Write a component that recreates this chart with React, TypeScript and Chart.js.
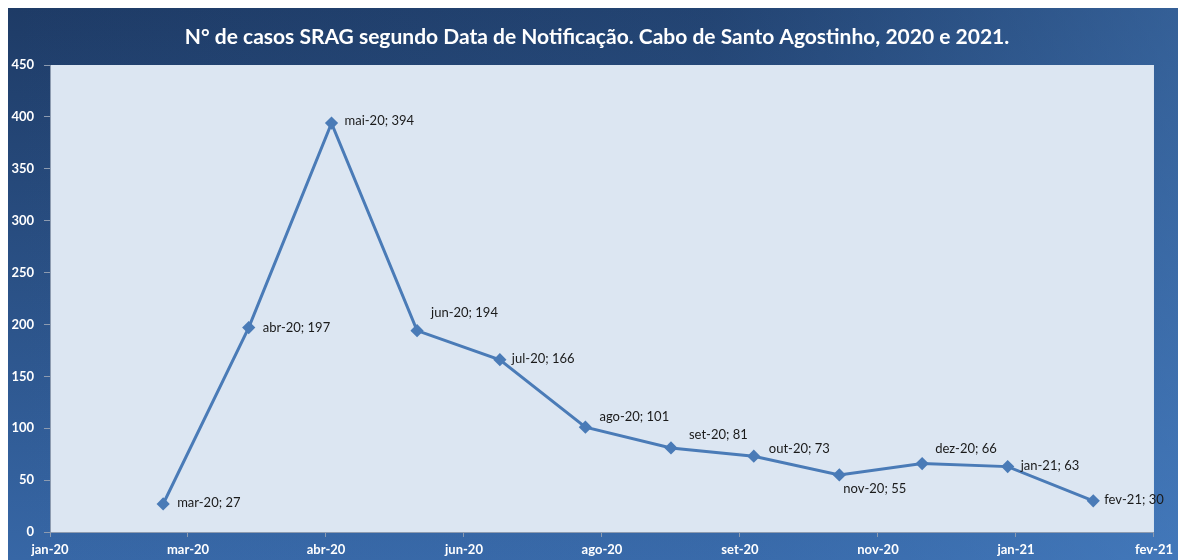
import React, { useEffect, useRef } from "react";
import { Chart, registerables } from "chart.js";

Chart.register(...registerables);

const TITLE = "N° de casos SRAG segundo Data de Notificação. Cabo de Santo Agostinho, 2020 e 2021.";
const MONTH_LABELS = ["mar-20", "abr-20", "mai-20", "jun-20", "jul-20", "ago-20", "set-20", "out-20", "nov-20", "dez-20", "jan-21", "fev-21"];
const MONTH_DATES = ["2020-03-01", "2020-04-01", "2020-05-01", "2020-06-01", "2020-07-01", "2020-08-01", "2020-09-01", "2020-10-01", "2020-11-01", "2020-12-01", "2021-01-01", "2021-02-01"];
const CASES = [27, 197, 394, 194, 166, 101, 81, 73, 55, 66, 63, 30];

const X_AXIS_START = "2020-01-20";
const X_AXIS_END = "2021-02-23";
const X_TICK_STEP_DAYS = 50;
const X_TICK_LABELS = ["jan-20", "mar-20", "abr-20", "jun-20", "ago-20", "set-20", "nov-20", "jan-21", "fev-21"];
const Y_MAX = 450;
const Y_STEP = 50;

// label offsets (dx to left edge of label, dy to label centre) — styling only
const LABEL_OFFSETS: [number, number][] = [
  [14, -1], [14, 0], [13, -2], [14, -18], [12, -1], [14, -10],
  [18, -13], [15, -7], [4, 14], [13, -15], [13, -1], [11, -1],
];

const FONT = "Lato, 'Open Sans', sans-serif";

const dayOffset = (d: string) => (Date.parse(d) - Date.parse(X_AXIS_START)) / 86400000;

export default function App() {
  const ref = useRef<HTMLCanvasElement | null>(null);

  useEffect(() => {
    document.body.style.overflow = "hidden";
    const canvas = ref.current;
    if (!canvas) return;

    const points = MONTH_DATES.map((d, i) => ({ x: dayOffset(d), y: CASES[i] }));

    const bgPlugin = {
      id: "bg",
      beforeDraw(chart: any) {
        const { ctx, width, height, chartArea } = chart;
        ctx.save();
        const g = ctx.createLinearGradient(0, 0, 0, height);
        g.addColorStop(0, "#1e3b66");
        g.addColorStop(1, "#3767a6");
        ctx.fillStyle = g;
        ctx.fillRect(0, 0, width, height);
        const h = ctx.createLinearGradient(0, 0, width, 0);
        h.addColorStop(0, "rgba(70,130,200,0)");
        h.addColorStop(0.6, "rgba(70,130,200,0.12)");
        h.addColorStop(1, "rgba(80,140,210,0.45)");
        ctx.fillStyle = h;
        ctx.fillRect(0, 0, width, height);
        ctx.fillStyle = "#dce6f2";
        ctx.fillRect(chartArea.left, chartArea.top, chartArea.right - chartArea.left, chartArea.bottom - chartArea.top);
        // title
        ctx.fillStyle = "#ffffff";
        ctx.font = `bold 21px ${FONT}`;
        ctx.textAlign = "center";
        ctx.textBaseline = "middle";
        ctx.fillText(TITLE, 589, 29);
        ctx.restore();
      },
    };

    const labelPlugin = {
      id: "ptlabels",
      afterDatasetsDraw(chart: any) {
        const { ctx } = chart;
        const meta = chart.getDatasetMeta(0);
        ctx.save();
        ctx.fillStyle = "#1a1a1a";
        ctx.font = `13px ${FONT}`;
        ctx.textAlign = "left";
        ctx.textBaseline = "middle";
        meta.data.forEach((el: any, i: number) => {
          const [dx, dy] = LABEL_OFFSETS[i];
          ctx.fillText(`${MONTH_LABELS[i]}; ${CASES[i]}`, el.x + dx, el.y + dy);
        });
        ctx.restore();
      },
    };

    const chart = new Chart(canvas, {
      type: "line",
      data: {
        datasets: [
          {
            data: points,
            borderColor: "#4a7bb7",
            backgroundColor: "#4a7bb7",
            borderWidth: 3,
            pointStyle: "rectRot",
            pointRadius: 4.5,
            pointHoverRadius: 4.5,
            tension: 0,
          },
        ],
      },
      options: {
        responsive: false,
        animation: false,
        events: [],
        layout: { padding: { top: 57, right: 20, left: 0, bottom: 0 } },
        plugins: { legend: { display: false }, title: { display: false }, tooltip: { enabled: false } },
        scales: {
          x: {
            type: "linear",
            min: 0,
            max: dayOffset(X_AXIS_END),
            afterFit: (s: any) => { s.height = 28; },
            ticks: {
              stepSize: X_TICK_STEP_DAYS,
              color: "#ffffff",
              font: { family: FONT, size: 13, weight: "bold" },
              padding: 5,
              maxRotation: 0,
              autoSkip: false,
              callback: (v: any) => X_TICK_LABELS[Math.round(Number(v) / X_TICK_STEP_DAYS)] ?? "",
            },
            grid: { drawOnChartArea: false, drawTicks: true, tickLength: 5, color: "#8d9bb0" },
            border: { display: true, color: "#8d9bb0", width: 1 },
          },
          y: {
            min: 0,
            max: Y_MAX,
            afterFit: (s: any) => { s.width = 42; },
            ticks: {
              stepSize: Y_STEP,
              color: "#ffffff",
              font: { family: FONT, size: 13, weight: "bold" },
              padding: 10,
            },
            grid: { drawOnChartArea: false, drawTicks: true, tickLength: 6, color: "#8d9bb0" },
            border: { display: true, color: "#8d9bb0", width: 1 },
          },
        },
      },
      plugins: [bgPlugin, labelPlugin],
    } as any);

    return () => chart.destroy();
  }, []);

  return (
    <div style={{ position: "fixed", left: 8, top: 8, width: 1170, height: 552, overflow: "hidden" }}>
      <canvas ref={ref} width={1170} height={552} style={{ display: "block", width: 1170, height: 552 }} />
    </div>
  );
}
